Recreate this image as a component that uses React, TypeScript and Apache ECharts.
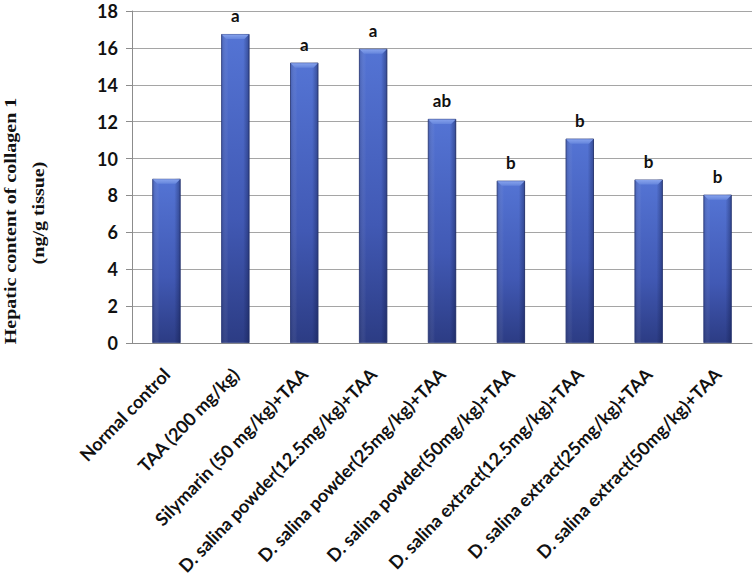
import React, { useEffect, useRef } from "react";
import * as echarts from "echarts";

const categories = [
  "Normal control",
  "TAA (200 mg/kg)",
  "Silymarin (50 mg/kg)+TAA",
  "D. salina powder(12.5mg/kg)+TAA",
  "D. salina powder(25mg/kg)+TAA",
  "D. salina powder(50mg/kg)+TAA",
  "D. salina extract(12.5mg/kg)+TAA",
  "D. salina extract(25mg/kg)+TAA",
  "D. salina extract(50mg/kg)+TAA",
];
const values = [8.9, 16.75, 15.2, 15.95, 12.15, 8.8, 11.08, 8.86, 8.04];
const letters = ["", "a", "a", "a", "ab", "b", "b", "b", "b"];
const yTitle = ["Hepatic content of collagen 1", "(ng/g tissue)"];

const BAR_FRAC = 0.41;

export default function App() {
  const ref = useRef<HTMLDivElement>(null);
  useEffect(() => {
    if (!ref.current) return;
    const chart = echarts.init(ref.current, undefined, { renderer: "svg" });
    const labelFont = "Lato, 'Open Sans', sans-serif";
    const titleFont = "bold 20px 'Liberation Serif', 'Times New Roman', serif";
    chart.setOption({
      animation: false,
      backgroundColor: "#ffffff",
      grid: { left: 132, right: 2, top: 11, bottom: 244, containLabel: false },
      xAxis: {
        type: "category",
        data: categories,
        axisLine: { show: true, lineStyle: { color: "#8c8c8c", width: 1 } },
        axisTick: { show: false },
        axisLabel: {
          interval: 0,
          rotate: 46,
          margin: 28,
          color: "#111",
          fontWeight: "bold",
          fontSize: 18,
          fontFamily: labelFont,
        },
      },
      yAxis: {
        type: "value",
        min: 0,
        max: 18,
        interval: 2,
        axisLine: { show: true, lineStyle: { color: "#8c8c8c", width: 1 } },
        axisTick: { show: true, length: 6, lineStyle: { color: "#8c8c8c" } },
        splitLine: { show: true, lineStyle: { color: "#a5a5a5", width: 1 } },
        axisLabel: {
          margin: 14,
          color: "#111",
          fontWeight: "bold",
          fontSize: 18,
          fontFamily: labelFont,
        },
      },
      series: [
        {
          type: "bar",
          data: values,
          barWidth: BAR_FRAC * 100 + "%",
          itemStyle: {
            borderColor: "#2a3a7c",
            borderWidth: 0.8,
            color: new echarts.graphic.LinearGradient(0, 0, 0, 1, [
              { offset: 0, color: "#5474d4" },
              { offset: 0.6, color: "#4159b4" },
              { offset: 1, color: "#2c3c84" },
            ]),
          },
          label: {
            show: true,
            position: "top",
            distance: 10,
            color: "#111",
            fontWeight: "bold",
            fontSize: 17,
            fontFamily: labelFont,
            formatter: (p: any) => letters[p.dataIndex],
          },
          z: 2,
        },
        {
          type: "bar",
          data: values,
          barWidth: BAR_FRAC * 100 + "%",
          barGap: "-100%",
          silent: true,
          itemStyle: {
            color: new echarts.graphic.LinearGradient(1, 0, 0, 0, [
              { offset: 0, color: "rgba(15,25,70,0.45)" },
              { offset: 0.22, color: "rgba(15,25,70,0.0)" },
              { offset: 0.75, color: "rgba(255,255,255,0.0)" },
              { offset: 1, color: "rgba(15,25,70,0.25)" },
            ]),
          },
          z: 3,
        },
        {
          type: "custom",
          data: values.map((v, i) => [i, v]),
          silent: true,
          z: 4,
          renderItem: (params: any, api: any) => {
            const idx = api.value(0);
            const val = api.value(1);
            const pt = api.coord([idx, val]);
            const w = api.size([1, 0])[0] * BAR_FRAC;
            const x0 = pt[0] - w / 2;
            const x1 = pt[0] + w / 2;
            const y = pt[1];
            const d = 5;
            return {
              type: "polygon",
              shape: {
                points: [
                  [x0 + 0.5, y + 0.5],
                  [x1 - 0.5, y + 0.5],
                  [x1 - d, y + d],
                  [x0 + d, y + d],
                ],
              },
              style: {
                fill: new echarts.graphic.LinearGradient(0, 0, 0, 1, [
                  { offset: 0, color: "#86a2ec" },
                  { offset: 1, color: "#6585dc" },
                ]),
              },
            };
          },
        },
      ],
      graphic: [
        {
          type: "text",
          x: 11,
          y: 221,
          rotation: Math.PI / 2,
          scaleY: 0.8,
          style: {
            text: yTitle[0],
            font: titleFont,
            fill: "#111",
            align: "center",
            verticalAlign: "middle",
          },
        },
        {
          type: "text",
          x: 39,
          y: 213,
          rotation: Math.PI / 2,
          scaleY: 0.8,
          style: {
            text: yTitle[1],
            font: titleFont,
            fill: "#111",
            align: "center",
            verticalAlign: "middle",
          },
        },
      ],
    });
    return () => chart.dispose();
  }, []);
  return (
    <div
      ref={ref}
      style={{
        position: "absolute",
        left: 0,
        top: 0,
        width: 754,
        height: 587,
        overflow: "hidden",
      }}
    />
  );
}
